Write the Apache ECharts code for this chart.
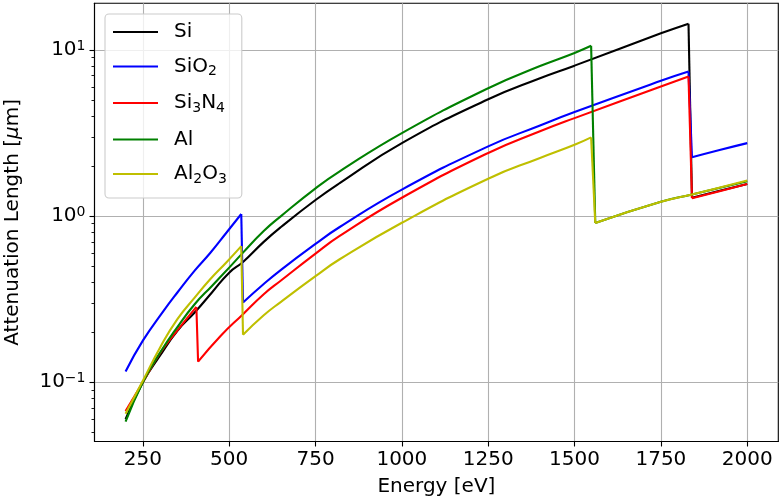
<!DOCTYPE html>
<html lang="en" style="height: 100%">
<head>
  <meta charset="utf-8">
</head>
<body style="height: 100%; margin: 0; background: #ffffff">
  <div id="container" style="width: 782px; height: 502px"></div>

  <script type="text/javascript" src="https://fastly.jsdelivr.net/npm/echarts@6.0.0/dist/echarts.min.js"></script>

  <script type="text/javascript">
    // tick values
    var xTicks = [250, 500, 750, 1000, 1250, 1500, 1750, 2000];
    var yMajor = [0.1, 1, 10];
    var yMinor = [0.05, 0.06, 0.07, 0.08, 0.09,
      0.2, 0.3, 0.4, 0.5, 0.6, 0.7, 0.8, 0.9,
      2, 3, 4, 5, 6, 7, 8, 9];

    // [energy eV, attenuation length um], one array per piece between absorption edges
    var siA = [[200, 0.060], [250, 0.100], [300, 0.145], [350, 0.204], [400, 0.263], [450, 0.347],
      [500, 0.457], [540, 0.53], [600, 0.70], [650, 0.86], [750, 1.25], [820, 1.58], [1000, 2.75],
      [1250, 5.05], [1400, 6.76], [1500, 8.05], [1750, 12.6], [1830, 14.4]];
    var siB = [[1840, 1.29], [1920, 1.42], [2000, 1.56]];

    var sio2A = [[200, 0.116], [250, 0.178], [310, 0.269], [350, 0.347], [400, 0.47], [445, 0.60],
      [493, 0.80], [535, 1.03]];
    var sio2B = [[540, 0.302], [600, 0.39], [650, 0.475], [750, 0.68], [820, 0.86], [1000, 1.445],
      [1250, 2.63], [1400, 3.51], [1500, 4.23], [1750, 6.52], [1830, 7.41]];
    var sio2C = [[1840, 2.26], [1920, 2.5], [2000, 2.75]];

    var si3n4A = [[200, 0.067], [250, 0.10], [300, 0.15], [350, 0.205], [405, 0.284]];
    var si3n4B = [[410, 0.133], [475, 0.19], [540, 0.257], [600, 0.339], [650, 0.41], [750, 0.595],
      [820, 0.76], [1000, 1.29], [1250, 2.40], [1400, 3.24], [1500, 3.89], [1750, 6.03], [1830, 6.92]];
    var si3n4C = [[1840, 1.28], [1920, 1.41], [2000, 1.56]];

    var alA = [[200, 0.058], [250, 0.10], [300, 0.151], [350, 0.215], [400, 0.295], [450, 0.38],
      [500, 0.49], [540, 0.603], [600, 0.813], [650, 1.0], [750, 1.47], [820, 1.86], [1000, 3.16],
      [1250, 5.89], [1400, 8.0], [1500, 9.6], [1548, 10.6]];
    var alB = [[1560, 0.91], [1750, 1.22], [1840, 1.35], [2000, 1.62]];

    var al2o3A = [[200, 0.0646], [250, 0.102], [300, 0.162], [350, 0.24], [400, 0.323], [445, 0.417],
      [493, 0.53], [535, 0.66]];
    var al2o3B = [[540, 0.193], [600, 0.253], [650, 0.305], [750, 0.435], [820, 0.55], [1000, 0.912],
      [1250, 1.68], [1400, 2.24], [1500, 2.69], [1548, 2.98]];
    var al2o3C = [[1560, 0.91], [1750, 1.22], [1840, 1.35], [2000, 1.64]];

    var materials = [
      { name: 'Si', label: '{g| }{n|Si}', color: '#000000', parts: [siA, siB] },
      { name: 'SiO2', label: '{g| }{n|SiO}{s|2}', color: '#0000ff', parts: [sio2A, sio2B, sio2C] },
      { name: 'Si3N4', label: '{g| }{n|Si}{s|3}{n|N}{s|4}', color: '#ff0000', parts: [si3n4A, si3n4B, si3n4C] },
      { name: 'Al', label: '{g| }{n|Al}', color: '#008000', parts: [alA, alB] },
      { name: 'Al2O3', label: '{g| }{n|Al}{s|2}{n|O}{s|3}', color: '#bfbf00', parts: [al2o3A, al2o3B, al2o3C] }
    ];

    var font = 'DejaVu Sans';
    var series = [];
    materials.forEach(function (m) {
      var line = { color: m.color, width: 2.1 };
      m.parts.forEach(function (part, i) {
        series.push({
          name: m.name, type: 'line', data: part, symbol: 'none',
          smooth: 0.5,
          lineStyle: line, itemStyle: { color: m.color }
        });
        // vertical drop at the edge
        if (i < m.parts.length - 1) {
          var next = m.parts[i + 1];
          series.push({
            name: m.name, type: 'line', symbol: 'none',
            data: [part[part.length - 1], next[0]],
            lineStyle: line, itemStyle: { color: m.color }
          });
        }
      });
    });

    var dom = document.getElementById('container');
    var myChart = echarts.init(dom, null, { renderer: 'canvas' });

    var option = {
      backgroundColor: '#ffffff',
      animation: false,
      grid: {
        left: 94.5, right: 3.7, top: 3.3, bottom: 60.5,
        show: true, borderColor: '#000000', borderWidth: 1.1,
        containLabel: false, outerBoundsMode: 'none'
      },
      legend: {
        orient: 'vertical', left: 105, top: 14,
        icon: 'rect', itemWidth: 45, itemHeight: 2.2, itemGap: 14.5,
        padding: [8, 15, 12, 8],
        backgroundColor: 'rgba(255,255,255,0.8)',
        borderColor: '#cccccc', borderWidth: 1.1, borderRadius: 4,
        data: materials.map(function (m) { return m.name; }),
        formatter: function (name) {
          return materials.filter(function (m) { return m.name === name; })[0].label;
        },
        textStyle: {
          rich: {
            g: { width: 11, fontSize: 20, lineHeight: 24 },
            n: { fontFamily: font, fontSize: 20, lineHeight: 24, color: '#000000' },
            s: { fontFamily: font, fontSize: 14, lineHeight: 14, color: '#000000', verticalAlign: 'bottom' }
          }
        }
      },
      xAxis: {
        type: 'value', min: 110, max: 2090,
        axisLine: { show: true, onZero: false, lineStyle: { color: '#000000', width: 1.1 } },
        axisTick: { show: true, customValues: xTicks, length: 5, lineStyle: { color: '#000000', width: 1.1 } },
        axisLabel: {
          customValues: xTicks, fontFamily: font, fontSize: 20, color: '#000000', margin: 8,
          formatter: function (v) { return String(v); }
        },
        splitLine: { show: true, lineStyle: { color: '#b0b0b0', width: 1.1 } },
        name: 'Energy [eV]', nameLocation: 'middle', nameGap: 35,
        nameTextStyle: { fontFamily: font, fontSize: 20, color: '#000000' }
      },
      yAxis: [
        {
          type: 'log', logBase: 10, min: 0.044, max: 19.1,
          axisLine: { show: true, onZero: false, lineStyle: { color: '#000000', width: 1.1 } },
          axisTick: { show: true, customValues: yMajor, length: 5, lineStyle: { color: '#000000', width: 1.1 } },
          axisLabel: {
            customValues: yMajor, margin: 9,
            formatter: function (v) {
              var e = Math.round(Math.log10(v));
              return '{b|10}{s|' + (e < 0 ? '\u2212' + (-e) : e) + '}';
            },
            rich: {
              b: { fontFamily: font, fontSize: 20, lineHeight: 22, color: '#000000' },
              s: { fontFamily: font, fontSize: 14, lineHeight: 14, color: '#000000', verticalAlign: 'top' }
            }
          },
          splitLine: { show: true, lineStyle: { color: '#b0b0b0', width: 1.1 } },
          name: '{n|Attenuation Length [}{m|\u03bc}{n|m]}',
          nameLocation: 'middle', nameGap: 72, nameRotate: 90,
          nameTextStyle: {
            rich: {
              n: { fontFamily: font, fontSize: 20, color: '#000000' },
              m: { fontFamily: font, fontSize: 20, fontStyle: 'italic', color: '#000000' }
            }
          }
        },
        {
          type: 'log', logBase: 10, min: 0.044, max: 19.1, position: 'left',
          axisLine: { show: false },
          axisTick: { show: true, customValues: yMinor, length: 3, lineStyle: { color: '#000000', width: 0.9 } },
          axisLabel: { show: false },
          splitLine: { show: false }
        }
      ],
      series: series
    };

    myChart.setOption(option);
    window.addEventListener('resize', myChart.resize);
  </script>
</body>
</html>
